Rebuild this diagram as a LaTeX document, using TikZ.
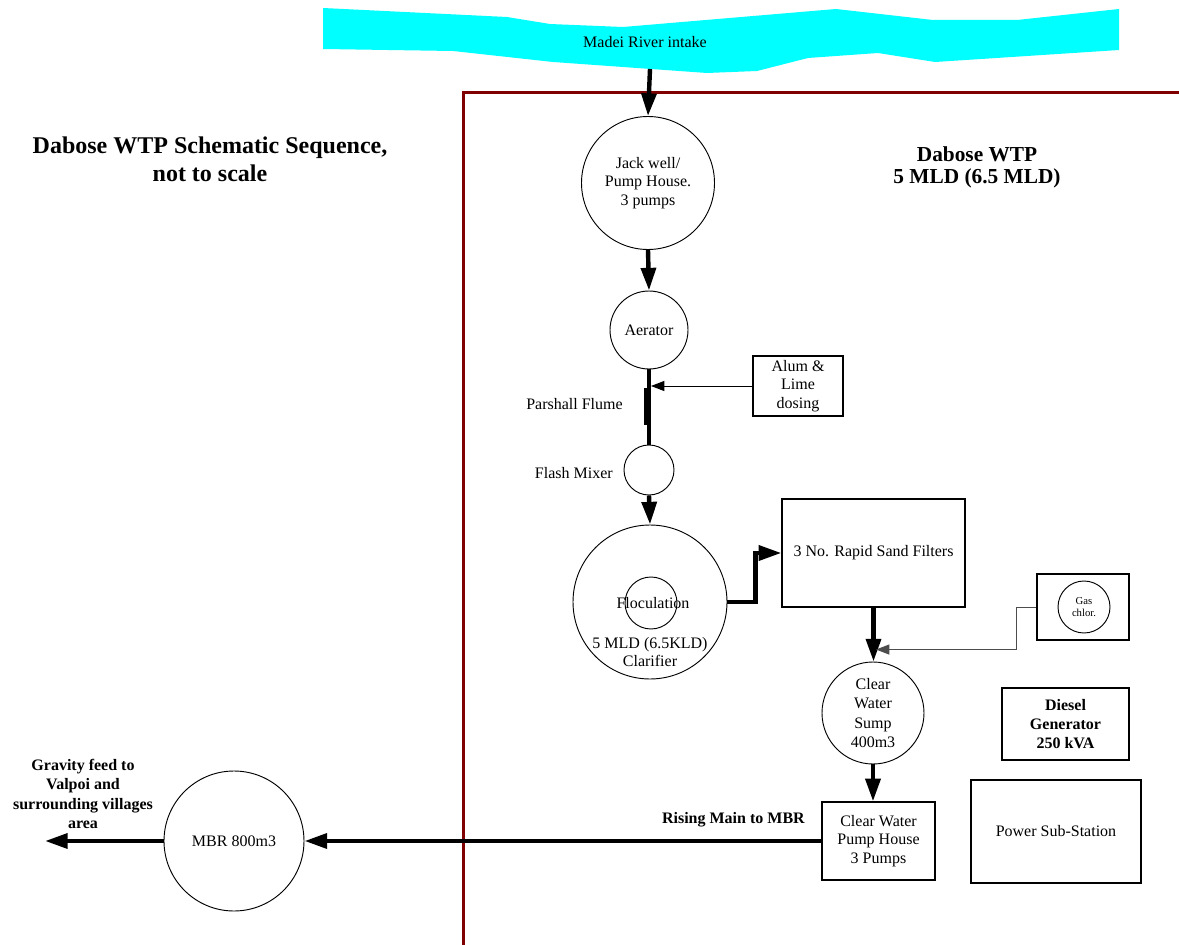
\documentclass[tikz,border=0pt]{standalone}
\usepackage{fontspec}
\setmainfont{Liberation Serif}
\usetikzlibrary{arrows.meta,calc,positioning}
\definecolor{RiverCyan}{HTML}{00FFFF}
\definecolor{SiteRed}{HTML}{800000}
\definecolor{FeedGrey}{HTML}{4D4D4D}

\begin{document}
\begin{tikzpicture}[x=0.75pt,y=-0.75pt,
    every node/.style={font=\fontsize{12}{14}\selectfont, align=center, inner sep=0pt},
    tank/.style={draw, circle, line width=0.7pt},
    unit/.style={draw, rectangle, line width=0.9pt},
    flow/.style={-{Triangle[length=17pt,width=11pt]}, line width=3.3pt},
    dose/.style={-{Triangle[length=10pt,width=7.5pt]}, line width=0.75pt, shorten >=1.5pt},
    heading/.style={font=\fontsize{18}{21}\selectfont\bfseries},
    note/.style={font=\fontsize{12}{14.5}\selectfont\bfseries}]
    \useasboundingbox (0,0) rectangle (1179,945);

    % river and site boundary
    \fill[RiverCyan] (323,8) -- (507,17) -- (550,24) -- (623,27) -- (836,9) -- (933,20) -- (1017,20) -- (1119,9)
      -- (1119,50) -- (935,62) -- (878,53) -- (808,58) -- (757,71) -- (707,73) -- (553,62) -- (453,51) -- (323,49) -- cycle;
    \node (river) at (645,42) {Madei River intake};
    \coordinate (intake) at (650,69);
    \draw[SiteRed, line width=2.25pt] (1179,93) -- (463,93) -- (463,945);

    \node[heading] (title) at (210,159) {Dabose WTP Schematic Sequence,\\not to scale};
    \node[font=\fontsize{16}{16.5}\selectfont\bfseries] (plant) at (977,167) {Dabose WTP\\5 MLD (6.5 MLD)};

    % treatment train
    \node[tank, minimum size=99.75pt] (jack) at (648,183) {Jack well/\\Pump House.\\3 pumps};
    \node[tank, minimum size=58.5pt] (aerator) at (649,330) {Aerator};
    \node[unit, minimum width=67.5pt, minimum height=45pt] (alum) at (798,386) {Alum \&\\Lime\\dosing};
    \node[anchor=east] (flumetext) at (623,404) {Parshall Flume};
    \node[tank, minimum size=37.5pt] (flash) at (649,470) {};
    \node[anchor=east] (flashtext) at (613,473) {Flash Mixer};
    \node[tank, minimum size=115.5pt] (clar) at (650,602) {};
    \node[tank, minimum size=39pt] (floc) at (651,603) {};
    \node (floctext) at (653,603) {Floculation};
    \node (clartext) at (650,652) {5 MLD (6.5KLD)\\Clarifier};
    \node[unit, minimum width=137.25pt, minimum height=81pt] (filters) at (873.5,553) {3 No. Rapid Sand Filters};
    \node[unit, minimum width=69pt, minimum height=49.5pt] (gas) at (1083,607) {};
    \node[tank, minimum size=39pt, font=\fontsize{8}{9}\selectfont] (gascirc) at (1084,607) {Gas\\chlor.};
    \node[tank, minimum size=76.5pt, font=\fontsize{12}{14.5}\selectfont] (sump) at (873,713) {Clear\\Water\\Sump\\400m3};
    \node[unit, minimum width=95.25pt, minimum height=54pt, note] (diesel) at (1065.5,724) {Diesel\\Generator\\250 kVA};
    \node[unit, minimum width=127.5pt, minimum height=77.25pt] (power) at (1056,831.5) {Power Sub-Station};
    \node[unit, minimum width=84.75pt, minimum height=58.5pt] (pump) at (878.5,841) {Clear Water\\Pump House\\3 Pumps};
    \node[tank, minimum size=105pt] (mbr) at (234,841) {MBR 800m3};
    \node[note, anchor=east] (risingtext) at (805,820) {Rising Main to MBR};
    \node[note] (gravitytext) at (83,794) {Gravity feed to\\Valpoi and\\surrounding villages\\area};
    \coordinate (outlet) at (45,841);

    % connectors
    \draw[flow] (intake) -- (jack.north);
    \draw[flow] (jack.south) -- (aerator.north);
    \draw[line width=3.3pt] (aerator.south) -- (flash.north);
    \draw[line width=2.25pt] (645.3,388) -- (645.3,425);
    \draw[dose] (alum.west) -- (alum.west -| aerator.south);
    \draw[flow] (flash.south) -- (clar.north);
    \draw[flow] (clar.east) -- ++(28,0) |- (filters.west);
    \draw[flow] (filters.south) -- (filters.south |- sump.north);
    \draw[dose, FeedGrey] (gas.west) -- ++(-20,0) |- ($(sump.north)+(1,-12)$);
    \draw[flow] (sump.south) -- (sump.south |- pump.north);
    \draw[flow] (pump.west) -- (mbr.east);
    \draw[flow] (mbr.west) -- (outlet);
\end{tikzpicture}
\end{document}
